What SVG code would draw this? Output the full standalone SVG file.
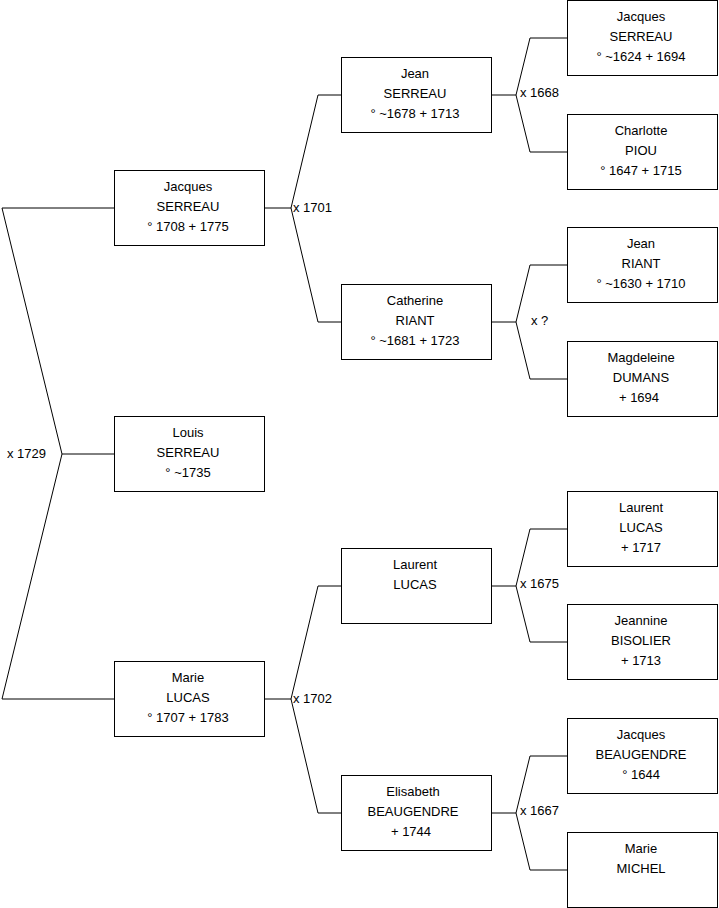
<svg xmlns="http://www.w3.org/2000/svg" width="719" height="908" viewBox="0 0 719 908">
<style>
  .box rect { fill: #ffffff; stroke: #000000; stroke-width: 1; }
  text { font-family: "Liberation Sans", Arial, sans-serif; font-size: 13px; fill: #000000; }
  .box text { text-anchor: middle; }
  .conn path { fill: none; stroke: #000000; stroke-width: 1; }
</style>
<rect x="0" y="0" width="719" height="908" fill="#ffffff"/>
<g id="connectors" class="conn">
  <path d="M114.5,208 H2 L62,454 L2,699 H114.5 M62,454 H114.5"/>
  <path d="M341.5,95 H318 L291,208 L318,322 H341.5 M264.5,208 H291"/>
  <path d="M341.5,586 H318 L291,699 L318,813 H341.5 M264.5,699 H291"/>
  <path d="M567.5,38 H530 L516,95 L530,152 H567.5 M491.5,95 H516"/>
  <path d="M567.5,265 H530 L516,322 L530,379 H567.5 M491.5,322 H516"/>
  <path d="M567.5,529 H530 L516,586 L530,642 H567.5 M491.5,586 H516"/>
  <path d="M567.5,756 H530 L516,813 L530,870 H567.5 M491.5,813 H516"/>
  <text x="7" y="458">x 1729</text>
  <text x="293" y="211.5">x 1701</text>
  <text x="293" y="702.5">x 1702</text>
  <text x="520" y="97">x 1668</text>
  <text x="531" y="325">x ?</text>
  <text x="520" y="588">x 1675</text>
  <text x="520" y="815">x 1667</text>
</g>
<g id="n-jacques-serreau-1708" class="box">
  <rect x="114.5" y="170.5" width="150" height="75"/>
  <text x="188" y="191">Jacques</text>
  <text x="188" y="211">SERREAU</text>
  <text x="188" y="231">° 1708 + 1775</text>
</g>
<g id="n-louis-serreau" class="box">
  <rect x="114.5" y="416.5" width="150" height="75"/>
  <text x="188" y="437">Louis</text>
  <text x="188" y="457">SERREAU</text>
  <text x="188" y="477">° ~1735</text>
</g>
<g id="n-marie-lucas" class="box">
  <rect x="114.5" y="661.5" width="150" height="75"/>
  <text x="188" y="682">Marie</text>
  <text x="188" y="702">LUCAS</text>
  <text x="188" y="722">° 1707 + 1783</text>
</g>
<g id="n-jean-serreau" class="box">
  <rect x="341.5" y="57.5" width="150" height="75"/>
  <text x="415" y="78">Jean</text>
  <text x="415" y="98">SERREAU</text>
  <text x="415" y="118">° ~1678 + 1713</text>
</g>
<g id="n-catherine-riant" class="box">
  <rect x="341.5" y="284.5" width="150" height="75"/>
  <text x="415" y="305">Catherine</text>
  <text x="415" y="325">RIANT</text>
  <text x="415" y="345">° ~1681 + 1723</text>
</g>
<g id="n-laurent-lucas-2" class="box">
  <rect x="341.5" y="548.5" width="150" height="75"/>
  <text x="415" y="569">Laurent</text>
  <text x="415" y="589">LUCAS</text>
</g>
<g id="n-elisabeth-beaugendre" class="box">
  <rect x="341.5" y="775.5" width="150" height="75"/>
  <text x="413" y="796">Elisabeth</text>
  <text x="413" y="816">BEAUGENDRE</text>
  <text x="411" y="836">+ 1744</text>
</g>
<g id="n-jacques-serreau-1624" class="box">
  <rect x="567.5" y="0.5" width="150" height="75"/>
  <text x="641" y="21">Jacques</text>
  <text x="641" y="41">SERREAU</text>
  <text x="641" y="61">° ~1624 + 1694</text>
</g>
<g id="n-charlotte-piou" class="box">
  <rect x="567.5" y="114.5" width="150" height="75"/>
  <text x="641" y="135">Charlotte</text>
  <text x="641" y="155">PIOU</text>
  <text x="641" y="175">° 1647 + 1715</text>
</g>
<g id="n-jean-riant" class="box">
  <rect x="567.5" y="227.5" width="150" height="75"/>
  <text x="641" y="248">Jean</text>
  <text x="641" y="268">RIANT</text>
  <text x="641" y="288">° ~1630 + 1710</text>
</g>
<g id="n-magdeleine-dumans" class="box">
  <rect x="567.5" y="341.5" width="150" height="75"/>
  <text x="641" y="362">Magdeleine</text>
  <text x="641" y="382">DUMANS</text>
  <text x="639" y="402">+ 1694</text>
</g>
<g id="n-laurent-lucas-3" class="box">
  <rect x="567.5" y="491.5" width="150" height="75"/>
  <text x="641" y="512">Laurent</text>
  <text x="641" y="532">LUCAS</text>
  <text x="641" y="552">+ 1717</text>
</g>
<g id="n-jeannine-bisolier" class="box">
  <rect x="567.5" y="604.5" width="150" height="75"/>
  <text x="641" y="625">Jeannine</text>
  <text x="641" y="645">BISOLIER</text>
  <text x="641" y="665">+ 1713</text>
</g>
<g id="n-jacques-beaugendre" class="box">
  <rect x="567.5" y="718.5" width="150" height="75"/>
  <text x="641" y="739">Jacques</text>
  <text x="641" y="759">BEAUGENDRE</text>
  <text x="641" y="779">° 1644</text>
</g>
<g id="n-marie-michel" class="box">
  <rect x="567.5" y="832.5" width="150" height="75"/>
  <text x="641" y="853">Marie</text>
  <text x="641" y="873">MICHEL</text>
</g>
</svg>
